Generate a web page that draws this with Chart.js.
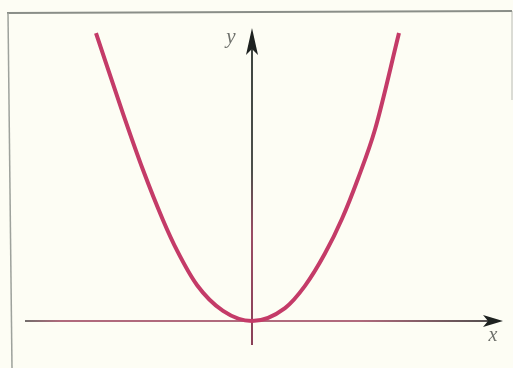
<!DOCTYPE html>
<html>
<head>
<meta charset="utf-8">
<script src="https://cdn.jsdelivr.net/npm/chart.js@4/dist/chart.umd.min.js"></script>
<style>
html,body{margin:0;padding:0;background:#fdfdf4;}
canvas{display:block;}
</style>
</head>
<body>
<canvas id="c" width="513" height="368"></canvas>
<script>
// Points (x, y)
const curveX = [-1.04, -0.86, -0.727, -0.593, -0.50, -0.367, -0.193, 0.0, 0.22, 0.353, 0.487, 0.60, 0.707, 0.82, 0.98];
const curveY = [1.00, 0.72, 0.525, 0.350, 0.245, 0.125, 0.035, 0.0, 0.045, 0.122, 0.235, 0.355, 0.495, 0.665, 1.00];
const axisLabels = ['x', 'y'];

const points = curveX.map((x, i) => ({x: x, y: curveY[i]}));

const decor = {
  id: 'decor',
  beforeDraw(chart) {
    const ctx = chart.ctx;
    ctx.save();
    ctx.fillStyle = '#fdfdf4';
    ctx.fillRect(0, 0, chart.width, chart.height);
    // scanned frame
    ctx.strokeStyle = '#8a8e88';
    ctx.lineWidth = 2;
    ctx.beginPath();
    ctx.moveTo(7, 13); ctx.lineTo(512, 11);
    ctx.stroke();
    ctx.strokeStyle = '#9ea29c';
    ctx.lineWidth = 1.5;
    ctx.beginPath();
    ctx.moveTo(8, 13); ctx.lineTo(12, 368);
    ctx.stroke();
    ctx.strokeStyle = 'rgba(150,155,150,0.45)';
    ctx.beginPath();
    ctx.moveTo(512, 11); ctx.lineTo(512, 100);
    ctx.stroke();

    const xs = chart.scales.x, ys = chart.scales.y, a = chart.chartArea;
    const x0 = xs.getPixelForValue(0), y0 = ys.getPixelForValue(0);

    // x axis
    let g = ctx.createLinearGradient(a.left, 0, a.right, 0);
    g.addColorStop(0, '#6e6e6a');
    g.addColorStop(0.08, '#b06a7c');
    g.addColorStop(0.7, '#b06a7c');
    g.addColorStop(1, '#4a4d4a');
    ctx.strokeStyle = g;
    ctx.lineWidth = 2;
    ctx.beginPath();
    ctx.moveTo(a.left + 3, y0); ctx.lineTo(a.right - 12, y0);
    ctx.stroke();
    ctx.fillStyle = '#1e2220';
    ctx.beginPath();
    ctx.moveTo(a.right, y0);
    ctx.lineTo(a.right - 20, y0 - 6);
    ctx.lineTo(a.right - 15, y0);
    ctx.lineTo(a.right - 20, y0 + 6);
    ctx.closePath();
    ctx.fill();

    // y axis
    g = ctx.createLinearGradient(0, a.top, 0, a.bottom);
    g.addColorStop(0, '#3c433e');
    g.addColorStop(0.45, '#4c4f4a');
    g.addColorStop(0.65, '#9a4c64');
    g.addColorStop(1, '#8a4058');
    ctx.strokeStyle = g;
    ctx.lineWidth = 2;
    ctx.beginPath();
    ctx.moveTo(x0, a.bottom); ctx.lineTo(x0, a.top + 10);
    ctx.stroke();
    ctx.fillStyle = '#1e2220';
    ctx.beginPath();
    ctx.moveTo(x0, a.top);
    ctx.lineTo(x0 - 6, a.top + 27);
    ctx.lineTo(x0, a.top + 21);
    ctx.lineTo(x0 + 6, a.top + 27);
    ctx.closePath();
    ctx.fill();

    // labels
    ctx.fillStyle = '#6f716c';
    ctx.font = 'italic 21px "Liberation Serif", "DejaVu Serif", serif';
    ctx.textAlign = 'center';
    ctx.textBaseline = 'middle';
    ctx.fillText(axisLabels[1], x0 - 21, a.top + 9);
    ctx.font = 'italic 20px "Liberation Serif", "DejaVu Serif", serif';
    ctx.fillText(axisLabels[0], a.right - 10, y0 + 15);
    ctx.restore();
  }
};

new Chart(document.getElementById('c'), {
  type: 'scatter',
  data: {
    datasets: [{
      data: points,
      showLine: true,
      borderColor: '#c43b68',
      borderWidth: 4,
      pointRadius: 0,
      cubicInterpolationMode: 'monotone',
      fill: false
    }]
  },
  options: {
    responsive: false,
    animation: false,
    events: [],
    layout: {padding: {left: 22, right: 10, top: 28, bottom: 23}},
    plugins: {legend: {display: false}, tooltip: {enabled: false}},
    scales: {
      x: {type: 'linear', display: false, min: -1.5333, max: 1.6733},
      y: {type: 'linear', display: false, min: -0.0833, max: 1.0174}
    }
  },
  plugins: [decor]
});
</script>
</body>
</html>
